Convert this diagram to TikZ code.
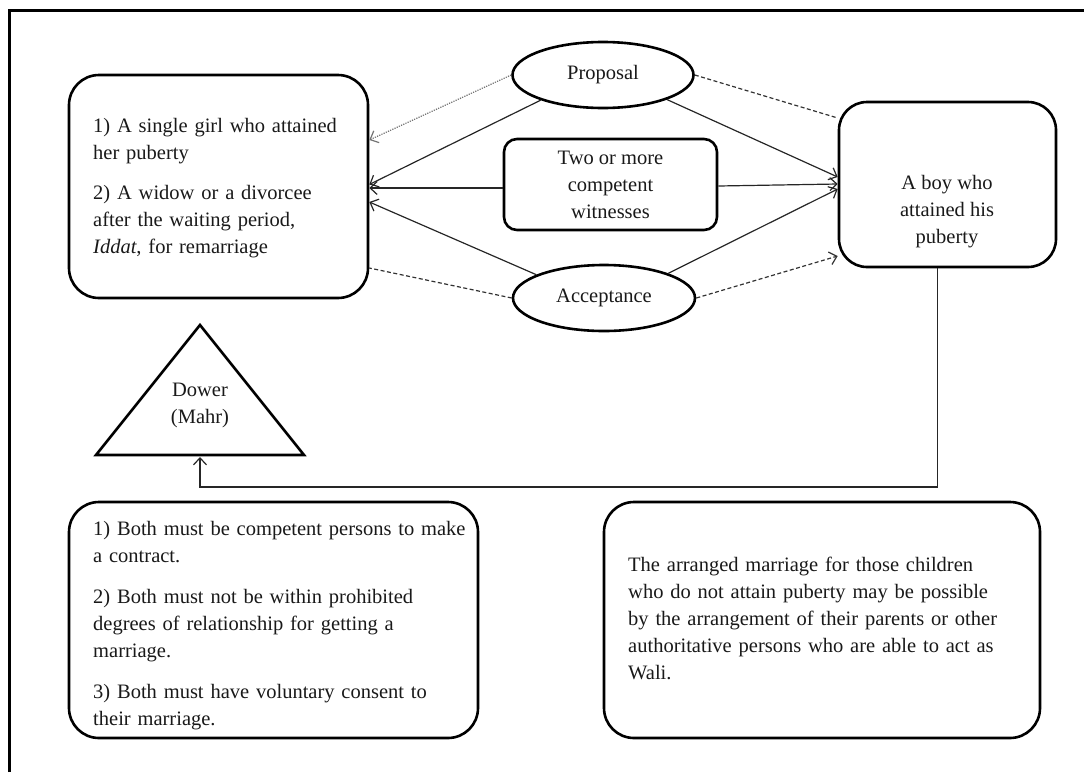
\documentclass[tikz,border=0pt]{standalone}
\usepackage{fontspec}
\setmainfont{Liberation Serif}
\usetikzlibrary{arrows.meta,shapes.geometric,calc}
\begin{document}
\begin{tikzpicture}[x=1pt,y=-1pt,
  every node/.style={font=\fontsize{20.5}{27}\selectfont, text=black!90},
  box/.style={draw, line width=2.6pt, rounded corners=30pt, inner sep=0pt},
  smallbox/.style={draw, line width=2.6pt, rounded corners=13pt, inner sep=0pt, align=center},
  oval/.style={draw, ellipse, line width=2.6pt, inner sep=0pt},
  txt/.style={inner sep=0pt, align=left, anchor=north west},
  link/.style={line width=1.2pt, draw=black!85},
  tip/.style={-{Straight Barb[length=7pt,width=13pt]}},
  dotline/.style={link, draw=black!55, dash pattern=on 1.2pt off 1.2pt},
  dashline/.style={link, draw=black!80, dash pattern=on 4pt off 2.5pt},
]
\useasboundingbox (0,0) rectangle (1084,772);

% outer frame (only the top and left edges fall inside the page)
\draw[line width=3pt] (9,772) -- (9,10) -- (1084,10);

% the two parties
\node[box, minimum width=299pt, minimum height=223pt] (girl) at (218.5,186.5) {};
\node[txt, text width=270pt] (girltxt) at (93,118)
  {1) A single girl who attained\\ her puberty\\[13pt]
   2) A widow or a divorcee\\ after the waiting period,\\ \textit{Iddat}, for remarriage};

\node[box, rounded corners=28pt, minimum width=217pt, minimum height=165pt] (boy) at (947.5,184.5) {};
\node[inner sep=0pt, align=center, anchor=north] (boytxt) at (947,175)
  {A boy who\\ attained his\\ puberty};

% offer, witnesses, acceptance
\node[oval, minimum width=181pt, minimum height=66pt] (prop) at (603,75) {Proposal};
\node[smallbox, minimum width=213pt, minimum height=91pt] (wit) at (610.5,184.5)
  {Two or more\\ competent\\ witnesses};
\node[oval, minimum width=182pt, minimum height=66pt] (acc) at (604,298) {Acceptance};

% connectors to the girl's side
\draw[dotline, tip] (prop.west) -- ($(girl.east)+(0,-46.5)$);
\draw[link, tip] (prop.202) -- ($(girl.east)+(0,-2)$);
\draw[link, tip] ($(wit.west)+(0,3.5)$) -- ($(girl.east)+(0,1.5)$);
\draw[link, tip] (acc.161) -- ($(girl.east)+(0,15.5)$);
\draw[dashline] (acc.west) -- ($(girl.east)+(0,81.5)$);

% connectors to the boy's side
\draw[dashline] (prop.east) -- ($(boy.west)+(0,-66.5)$);
\draw[link, tip] (prop.339) -- ($(boy.west)+(0,-7.5)$);
\draw[link, tip] ($(wit.east)+(0,1.5)$) -- ($(boy.west)+(0,-0.5)$);
\draw[link, tip] (acc.21) -- ($(boy.west)+(0,4.5)$);
\draw[dashline, tip] (acc.east) -- ($(boy.west)+(0,71.5)$);

% dower triangle
\draw[line width=2.6pt, line join=miter] (200,325) -- (304,455) -- (96,455) -- cycle;
\coordinate (dower) at (200,457);
\node[inner sep=0pt, align=center] (dowertxt) at (200,405) {Dower\\ (Mahr)};
\draw[link, tip] ($(boy.south west)!0.456!(boy.south east)$) |- ($(dower)+(0,30)$) -- (dower);

% conditions
\node[box, minimum width=409pt, minimum height=236pt] (cond) at (273.5,620) {};
\node[txt, text width=440pt] (condtxt) at (93,521)
  {1) Both must be competent persons to make\\ a contract.\\[14pt]
   2) Both must not be within prohibited\\ degrees of relationship for getting a\\ marriage.\\[14pt]
   3) Both must have voluntary consent to\\ their marriage.};

\node[box, minimum width=436pt, minimum height=236pt] (wali) at (822,620) {};
\node[txt, text width=440pt] (walitxt) at (628,557)
  {The arranged marriage for those children\\ who do not attain puberty may be possible\\
   by the arrangement of their parents or other\\ authoritative persons who are able to act as\\ Wali.};
\end{tikzpicture}
\end{document}
